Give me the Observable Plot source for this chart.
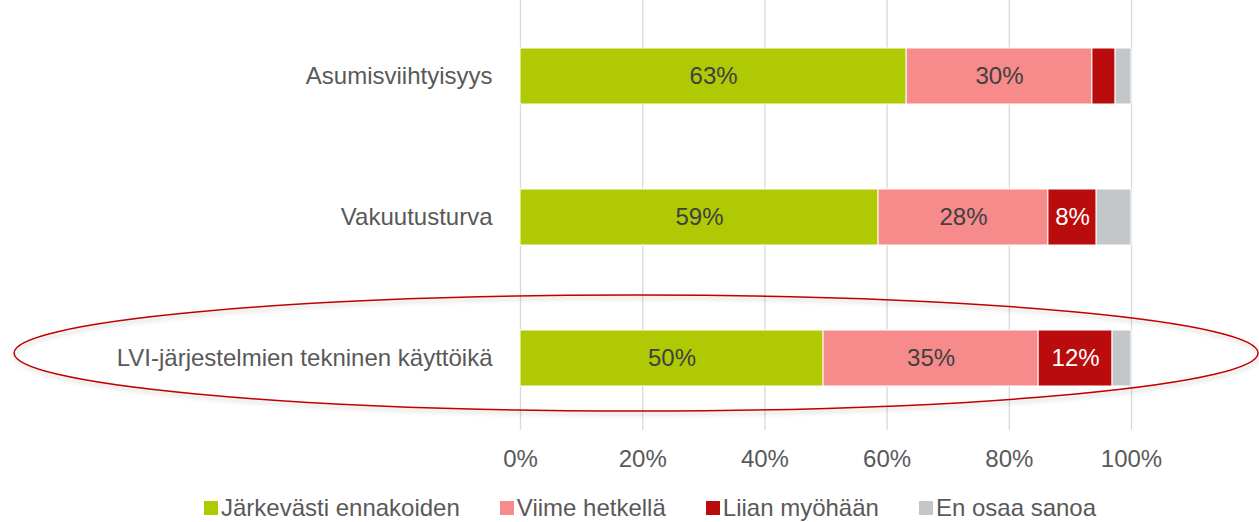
<!DOCTYPE html>
<html>
<head>
<meta charset="utf-8">
<script src="https://cdn.jsdelivr.net/npm/d3@7"></script>
<script src="https://cdn.jsdelivr.net/npm/@observablehq/plot@0.6"></script>
<style>
  html, body { margin: 0; padding: 0; background: #fff; }
  body { width: 1259px; height: 522px; position: relative; overflow: hidden; font-family: "Liberation Sans", Arial, sans-serif; }
  #legend { position: absolute; left: 204px; top: 494px; display: flex; align-items: center; font-size: 24px; line-height: 28px; color: #595959; white-space: nowrap; }
  .item { display: flex; align-items: center; margin-right: 40px; }
  .sw { width: 14px; height: 14px; margin-right: 3px; }
</style>
</head>
<body>
<div id="chart"></div>
<div id="legend"></div>
<script>
const categories = ["Asumisviihtyisyys", "Vakuutusturva", "LVI-järjestelmien tekninen käyttöikä"];
const series = ["Järkevästi ennakoiden", "Viime hetkellä", "Liian myöhään", "En osaa sanoa"];
const colors = ["#AFCA05", "#F78B8B", "#BA0C0C", "#C3C7CA"];
const jarkevasti = [63.2, 58.6, 49.6];
const viime = [30.4, 27.8, 35.2];
const liian = [3.8, 7.9, 12.1];
const enOsaa = [2.6, 5.7, 3.1];
const xTicks = [0, 20, 40, 60, 80, 100];
const highlighted = "LVI-järjestelmien tekninen käyttöikä";

const seriesValues = [jarkevasti, viime, liian, enOsaa];
const data = [];
categories.forEach((c, i) => {
  series.forEach((s, j) => data.push({category: c, series: s, value: seriesValues[j][i]}));
});

// gray "En osaa sanoa" and very small segments are not labelled
const labelData = data.map(d => ({...d, label: (d.series !== "En osaa sanoa" && d.value >= 5) ? Math.round(d.value) + "%" : ""}));

// ellipse annotation around highlighted category (x in data units)
const ellipseMark = (index, scales, values, dims, context) => {
  const svgNS = "http://www.w3.org/2000/svg";
  const g = document.createElementNS(svgNS, "g");
  const x = scales.x, y = scales.y;
  const cx = x(19), rx = (x(100) - x(0)) * 1.018;
  const cy = y(highlighted) + y.bandwidth() / 2 - 5;
  const defs = document.createElementNS(svgNS, "defs");
  defs.innerHTML = '<filter id="shadow" x="-5%" y="-30%" width="110%" height="160%"><feDropShadow dx="1" dy="3" stdDeviation="2" flood-color="#000" flood-opacity="0.22"/></filter>';
  g.appendChild(defs);
  const e = document.createElementNS(svgNS, "ellipse");
  e.setAttribute("cx", cx);
  e.setAttribute("cy", cy);
  e.setAttribute("rx", rx);
  e.setAttribute("ry", 58);
  e.setAttribute("fill", "none");
  e.setAttribute("stroke", "#C00000");
  e.setAttribute("stroke-width", 1.5);
  e.setAttribute("filter", "url(#shadow)");
  g.appendChild(e);
  return g;
};

const plot = Plot.plot({
  width: 1259,
  height: 480,
  marginLeft: 520,
  marginRight: 128,
  marginTop: 0,
  marginBottom: 50,
  style: {fontFamily: "'Liberation Sans', Arial, sans-serif", fontSize: "24px", color: "#595959", overflow: "visible"},
  x: {domain: [0, 100], ticks: xTicks, tickFormat: d => d + "%", label: null},
  y: {domain: categories, range: [5, 430], paddingInner: 0.6, paddingOuter: 0.3, label: null},
  color: {domain: series, range: colors},
  marks: [
    Plot.gridX(xTicks, {stroke: "#D9D9D9", strokeOpacity: 1, strokeWidth: 1.3}),
    Plot.barX(data, Plot.stackX({x: "value", y: "category", fill: "series", z: "series", stroke: "#fff", strokeWidth: 1})),
    Plot.text(labelData, Plot.stackX({x: "value", y: "category", z: "series", text: "label", fill: d => d.series === "Liian myöhään" ? "#fff" : "#404040", fontSize: 24})),
    Plot.axisX({ticks: xTicks, tickFormat: d => d + "%", tickSize: 0, tickPadding: 19, fill: "#595959", fontSize: 24, label: null}),
    Plot.axisY({tickSize: 0, tickPadding: 28, fill: "#595959", fontSize: 24, label: null}),
    ellipseMark
  ]
});
document.getElementById("chart").appendChild(plot);

const legend = document.getElementById("legend");
series.forEach((s, i) => {
  const it = document.createElement("div");
  it.className = "item";
  it.innerHTML = `<div class="sw" style="background:${colors[i]}"></div><span>${s}</span>`;
  legend.appendChild(it);
});
</script>
</body>
</html>
